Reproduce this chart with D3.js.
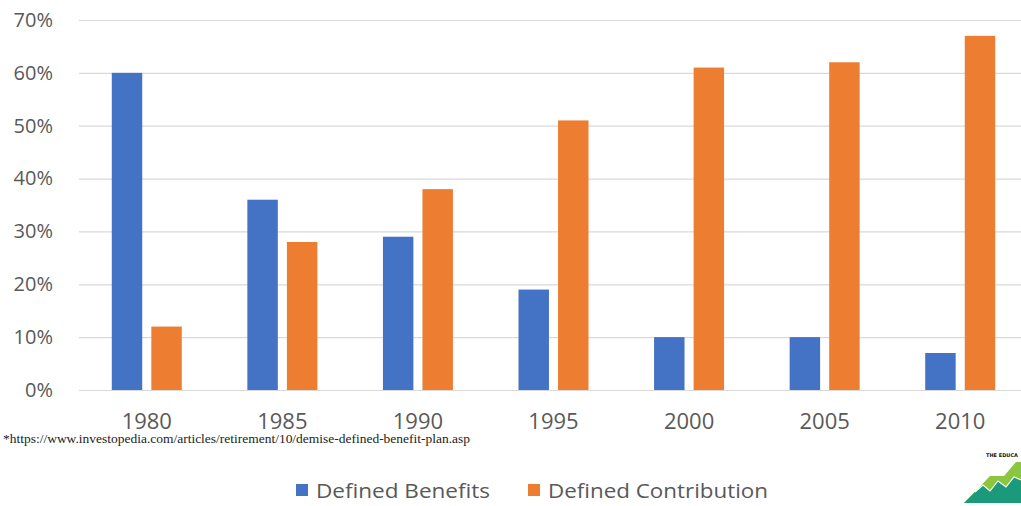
<!DOCTYPE html>
<html>
<head>
<meta charset="utf-8">
<script src="https://cdn.jsdelivr.net/npm/d3@7"></script>
<style>
  html, body { margin: 0; padding: 0; background: #fff; }
  svg { display: block; }
</style>
</head>
<body>
<svg id="chart" width="1021" height="506"></svg>
<script>
// Share of workers covered, by plan type
const years = ["1980", "1985", "1990", "1995", "2000", "2005", "2010"];
const definedBenefits = [60, 36, 29, 19, 10, 10, 7];
const definedContribution = [12, 28, 38, 51, 61, 62, 67];
const seriesNames = ["Defined Benefits", "Defined Contribution"];
const yTicks = [0, 10, 20, 30, 40, 50, 60, 70];
const sourceNote = "*https://www.investopedia.com/articles/retirement/10/demise-defined-benefit-plan.asp";

const colors = ["#4472C4", "#ED7D31"];
const font = "'Open Sans', Lato, sans-serif";
const textColor = "#595959";

const svg = d3.select("#chart");

const plot = { left: 79, right: 1028, top: 20, bottom: 390 };

const x = d3.scaleBand().domain(years).range([plot.left, plot.right]).paddingInner(0).paddingOuter(0);
const y = d3.scaleLinear().domain([0, 70]).range([plot.bottom, plot.top]);

const rows = years.map((yr, i) => ({ year: yr, values: [definedBenefits[i], definedContribution[i]] }));
// two bars of ~31px with an ~8px gap, centred in each band
const xs = d3.scaleBand().domain([0, 1]).range([x.bandwidth() / 2 - 35, x.bandwidth() / 2 + 35]).paddingInner(0.23);

// Gridlines and y-axis labels
const yAxis = d3.axisLeft(y).tickValues(yTicks).tickFormat(d => d + "%").tickSize(-(plot.right - plot.left)).tickPadding(26);
const gy = svg.append("g").attr("transform", `translate(${plot.left},0)`).call(yAxis);
gy.select(".domain").remove();
gy.selectAll(".tick line").attr("stroke", "#d9d9d9").attr("stroke-width", 1.2);
gy.selectAll(".tick text").attr("fill", textColor).style("font-family", font).style("font-size", "20px");

// Bars
const groups = svg.append("g").selectAll("g").data(rows).join("g")
  .attr("transform", d => `translate(${x(d.year)},0)`);
groups.selectAll("rect").data(d => d.values.map((v, k) => ({ k, v }))).join("rect")
  .attr("x", d => xs(d.k))
  .attr("width", xs.bandwidth())
  .attr("y", d => y(d.v))
  .attr("height", d => y(0) - y(d.v))
  .attr("fill", d => colors[d.k]);

// Category axis labels
const xAxis = d3.axisBottom(x).tickSize(0).tickPadding(23);
const gx = svg.append("g").attr("transform", `translate(0,${plot.bottom})`).call(xAxis);
gx.select(".domain").remove();
gx.selectAll(".tick text").attr("fill", textColor).style("font-family", font).style("font-size", "22px");

// Source note
svg.append("text").attr("x", 3).attr("y", 443)
  .style("font-family", "'Liberation Serif', 'DejaVu Serif', serif").style("font-size", "12px")
  .attr("textLength", 467).attr("lengthAdjust", "spacingAndGlyphs")
  .attr("fill", "#222").text(sourceNote);

// Legend
const legendItems = [
  { x: 296, name: seriesNames[0], c: colors[0], w: 174 },
  { x: 528, name: seriesNames[1], c: colors[1], w: 220 }
];
const lg = svg.append("g");
legendItems.forEach(it => {
  lg.append("rect").attr("x", it.x).attr("y", 484).attr("width", 12).attr("height", 12).attr("fill", it.c);
  lg.append("text").attr("x", it.x + 20).attr("y", 498).attr("fill", textColor)
    .style("font-family", font).style("font-size", "20px")
    .attr("textLength", it.w).attr("lengthAdjust", "spacingAndGlyphs").text(it.name);
});

// Small brand mark, bottom right
const logo = svg.append("g");
logo.append("text").attr("x", 986).attr("y", 457).style("font-family", "'DejaVu Sans', sans-serif")
  .style("font-size", "5px").style("font-weight", "bold").attr("fill", "#111").text("THE EDUCA");
logo.append("polygon").attr("points", "964,503 990,476 1004,476 1016,462 1021,462 1021,503")
  .attr("fill", "#8cc63f");
logo.append("polygon").attr("points", "964,503 975,492 983,485 990,491 998,481 1006,487 1014,477 1021,480 1021,503")
  .attr("fill", "#1a9a7a");
logo.append("polyline").attr("points", "975,492 983,485 990,491 998,481 1006,487 1014,477 1021,480")
  .attr("fill", "none").attr("stroke", "#fff").attr("stroke-width", 1.2);
</script>
</body>
</html>
